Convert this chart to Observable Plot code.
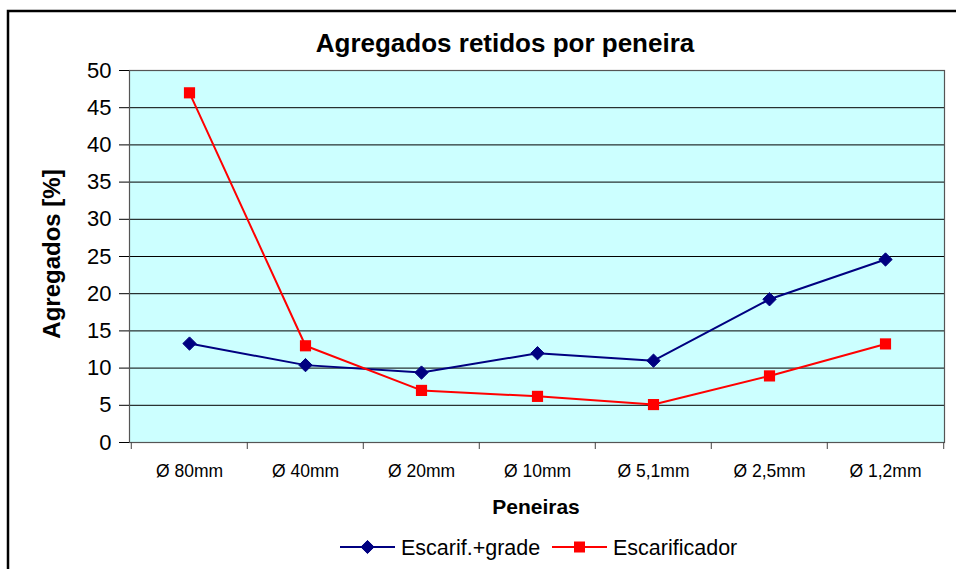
<!DOCTYPE html>
<html>
<head>
<meta charset="utf-8">
<script src="https://cdn.jsdelivr.net/npm/d3@7"></script>
<script src="https://cdn.jsdelivr.net/npm/@observablehq/plot@0.6"></script>
<style>
  html, body { margin: 0; padding: 0; background: #fff; }
  #wrap { position: relative; width: 956px; height: 569px; overflow: hidden; font-family: "Liberation Sans", Arial, sans-serif; }
  #wrap > svg { position: absolute; left: 0; top: 0; }
  #overlay { pointer-events: none; }
</style>
</head>
<body>
<div id="wrap"></div>
<script>
const categories = ["Ø 80mm", "Ø 40mm", "Ø 20mm", "Ø 10mm", "Ø 5,1mm", "Ø 2,5mm", "Ø 1,2mm"];
const escarifGrade = [13.3, 10.4, 9.4, 12.0, 11.0, 19.25, 24.6];
const escarificador = [47.0, 13.0, 7.0, 6.2, 5.1, 8.95, 13.25];
const yTicks = [0, 5, 10, 15, 20, 25, 30, 35, 40, 45, 50];
const seriesNames = ["Escarif.+grade", "Escarificador"];
const title = "Agregados retidos por peneira";
const yLabel = "Agregados [%]";
const xLabel = "Peneiras";

const data = [
  ...categories.map((c, i) => ({cat: c, value: escarifGrade[i], series: seriesNames[0]})),
  ...categories.map((c, i) => ({cat: c, value: escarificador[i], series: seriesNames[1]}))
];
const blue = "#000080", red = "#FF0000";

const W = 956, H = 569, mL = 129, mR = 12, mT = 70, mB = 127;
const bw = (W - mL - mR) / categories.length;

const chart = Plot.plot({
  width: W, height: H,
  marginLeft: mL, marginRight: mR, marginTop: mT, marginBottom: mB,
  style: {fontFamily: "Liberation Sans, Arial, sans-serif", background: "transparent", color: "black"},
  x: {type: "band", domain: categories, padding: 0, label: null},
  y: {domain: [0, 50], label: null},
  marks: [
    Plot.frame({fill: "#CCFFFF", stroke: null}),
    Plot.gridY(yTicks.slice(1, -1), {stroke: "black", strokeOpacity: 1, strokeWidth: 1}),
    Plot.frame({stroke: "#555", strokeWidth: 1.2}),
    Plot.axisY(yTicks, {tickSize: 10, tickPadding: 8, fontSize: 22, label: null, stroke: "black"}),
    Plot.axisX({tickSize: 0, tickPadding: 22, fontSize: 17.5, label: null}),
    Plot.axisX({tickSize: 7, text: null, dx: -bw / 2, label: null, stroke: "#444"}),
    Plot.axisX([categories[categories.length - 1]], {tickSize: 7, text: null, dx: bw / 2, label: null, stroke: "#444"}),
    Plot.line(data.filter(d => d.series === seriesNames[0]), {x: "cat", y: "value", stroke: blue, strokeWidth: 2}),
    Plot.line(data.filter(d => d.series === seriesNames[1]), {x: "cat", y: "value", stroke: red, strokeWidth: 2}),
    Plot.dot(data.filter(d => d.series === seriesNames[0]), {x: "cat", y: "value", symbol: "diamond2", r: 6, fill: blue, stroke: blue, strokeWidth: 1}),
    Plot.dot(data.filter(d => d.series === seriesNames[1]), {x: "cat", y: "value", symbol: "square", r: 6.3, fill: red, stroke: "none"})
  ]
});
const wrap = document.getElementById("wrap");
wrap.appendChild(chart);

// Overlay: title, axis titles, legend, outer chart border
const ov = d3.select(wrap).append("svg").attr("id", "overlay")
  .attr("width", W).attr("height", H)
  .style("font-family", "Liberation Sans, Arial, sans-serif");
ov.append("rect").attr("x", 8).attr("y", 11).attr("width", 1000).attr("height", 700)
  .attr("fill", "none").attr("stroke", "black").attr("stroke-width", 2.5);
ov.append("text").attr("x", 505).attr("y", 52).attr("text-anchor", "middle")
  .attr("font-weight", "bold").attr("font-size", 26).text(title);
ov.append("text").attr("transform", "translate(60,254) rotate(-90)").attr("text-anchor", "middle")
  .attr("font-weight", "bold").attr("font-size", 24).text(yLabel);
ov.append("text").attr("x", 536).attr("y", 514).attr("text-anchor", "middle")
  .attr("font-weight", "bold").attr("font-size", 21).text(xLabel);

// legend
const leg = [
  {name: seriesNames[0], color: blue, x0: 340, sym: "diamond"},
  {name: seriesNames[1], color: red, x0: 552, sym: "square"}
];
const ly = 547;
leg.forEach(l => {
  ov.append("line").attr("x1", l.x0).attr("x2", l.x0 + 55).attr("y1", ly).attr("y2", ly)
    .attr("stroke", l.color).attr("stroke-width", 2);
  const cx = l.x0 + 27.5;
  if (l.sym === "diamond") {
    ov.append("path").attr("d", d3.symbol(d3.symbolDiamond2, 110)()).attr("transform", `translate(${cx},${ly})`)
      .attr("fill", l.color).attr("stroke", l.color);
  } else {
    ov.append("rect").attr("x", cx - 5.5).attr("y", ly - 5.5).attr("width", 11).attr("height", 11).attr("fill", l.color);
  }
  ov.append("text").attr("x", l.x0 + 61).attr("y", ly + 7.5).attr("font-size", 21.5).text(l.name);
});
</script>
</body>
</html>
